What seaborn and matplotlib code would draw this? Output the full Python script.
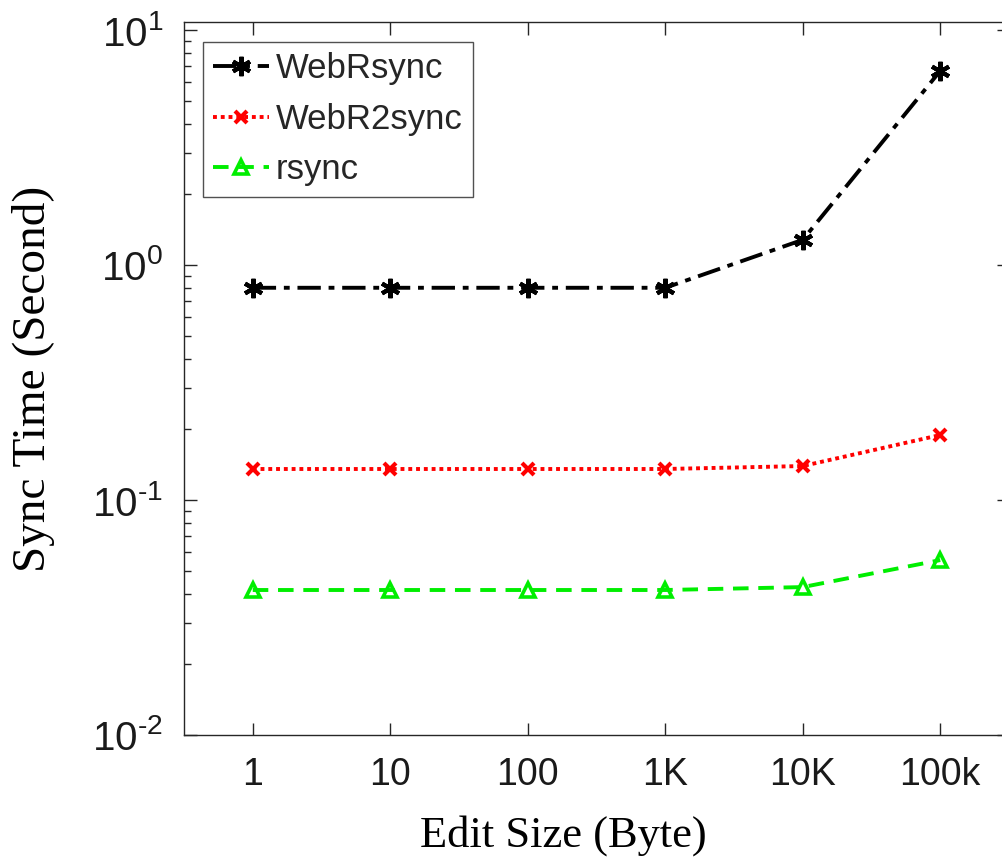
import numpy as np
import pandas as pd
import matplotlib
matplotlib.use("Agg")
import matplotlib.pyplot as plt
import seaborn as sns
from matplotlib.ticker import LogLocator, NullFormatter, FuncFormatter

edit_sizes = ["1", "10", "100", "1K", "10K", "100k"]
webrsync = [0.80, 0.80, 0.80, 0.80, 1.28, 6.7]
webr2sync = [0.1355, 0.1355, 0.1355, 0.1355, 0.1395, 0.189]
rsync = [0.0414, 0.0414, 0.0414, 0.0414, 0.0426, 0.0555]

sns.set_style("ticks")
plt.rcParams['font.family'] = ['Liberation Sans', 'DejaVu Sans']
plt.rcParams['mathtext.fontset'] = 'custom'
plt.rcParams['mathtext.rm'] = 'Liberation Sans'
plt.rcParams['mathtext.it'] = 'Liberation Sans'

fig = plt.figure(figsize=(10.02, 8.61), dpi=100)
ax = fig.add_axes([184/1002, (861-735)/861, 825/1002, 713/861])

pos = np.arange(1, len(edit_sizes) + 1)
series = [
    ("WebRsync", webrsync, "black", (0, (6, 2, 1.5, 2)), (6, 2, 0), 14),
    ("WebR2sync", webr2sync, "red", (0, (1, 1)), "x", 9),
    ("rsync", rsync, "#00ee00", (0, (4, 2.5)), "^", 10),
]
for name, vals, color, ls, mk, ms in series:
    sns.lineplot(x=pos, y=vals, ax=ax, color=color, linestyle=ls, marker=mk,
                 markersize=ms, markeredgewidth=3.0 if mk != "^" else 2.6,
                 markerfacecolor="none" if mk == "^" else color,
                 markeredgecolor=color, linewidth=2.8, label=name)


def fmt(v, p):
    e = int(round(np.log10(v)))
    if e < 0:
        return r"$\mathregular{10^{\text{-}%d}}$" % (-e)
    return r"$\mathregular{10^{%d}}$" % e


ax.set_yscale("log")
ax.set_ylim(1e-2, 10 ** (1 + 8 / 235))
ax.set_xlim(0.5, 6.5)
ax.set_xticks(pos)
ax.set_xticklabels(edit_sizes)
ax.yaxis.set_major_locator(LogLocator(base=10, numticks=10))
ax.yaxis.set_major_formatter(FuncFormatter(fmt))
ax.yaxis.set_minor_locator(LogLocator(base=10, subs=np.arange(2, 10), numticks=100))
ax.yaxis.set_minor_formatter(NullFormatter())

ax.tick_params(axis="both", which="major", direction="in", length=9, width=1,
               top=True, right=True, colors="#262626", labelcolor="#1a1a1a")
ax.tick_params(axis="x", which="major", labelsize=27, pad=16)
ax.tick_params(axis="y", which="major", labelsize=29, pad=15)
ax.tick_params(axis="y", which="minor", direction="in", length=5, width=1, right=True, colors="#262626")
ax.tick_params(axis="x", which="minor", bottom=False, top=False)
for s in ax.spines.values():
    s.set_visible(True)
    s.set_color("#262626")
    s.set_linewidth(1)

ax.set_xlabel("Edit Size (Byte)", fontsize=32, family=["Liberation Serif"], color="black")
ax.set_ylabel("Sync Time (Second)", fontsize=34, family=["Liberation Serif"], color="black")
ax.xaxis.set_label_coords((563 - 184) / 825, -(836 - 735) / 713, transform=ax.transAxes)
ax.xaxis.label.set_va("center")
ax.yaxis.set_label_coords(-(184 - 12) / 825, 0.5, transform=ax.transAxes)
ax.yaxis.label.set_va("top")

leg = ax.legend(loc="upper left", bbox_to_anchor=(19/825, 1 - 20/713), fontsize=25,
                frameon=True, fancybox=False, handlelength=1.6, handletextpad=0.2,
                borderpad=0.3, labelspacing=0.5, borderaxespad=0)
leg.get_frame().set_edgecolor("#262626")
leg.get_frame().set_linewidth(1)

fig.savefig("out.png", dpi=100)
